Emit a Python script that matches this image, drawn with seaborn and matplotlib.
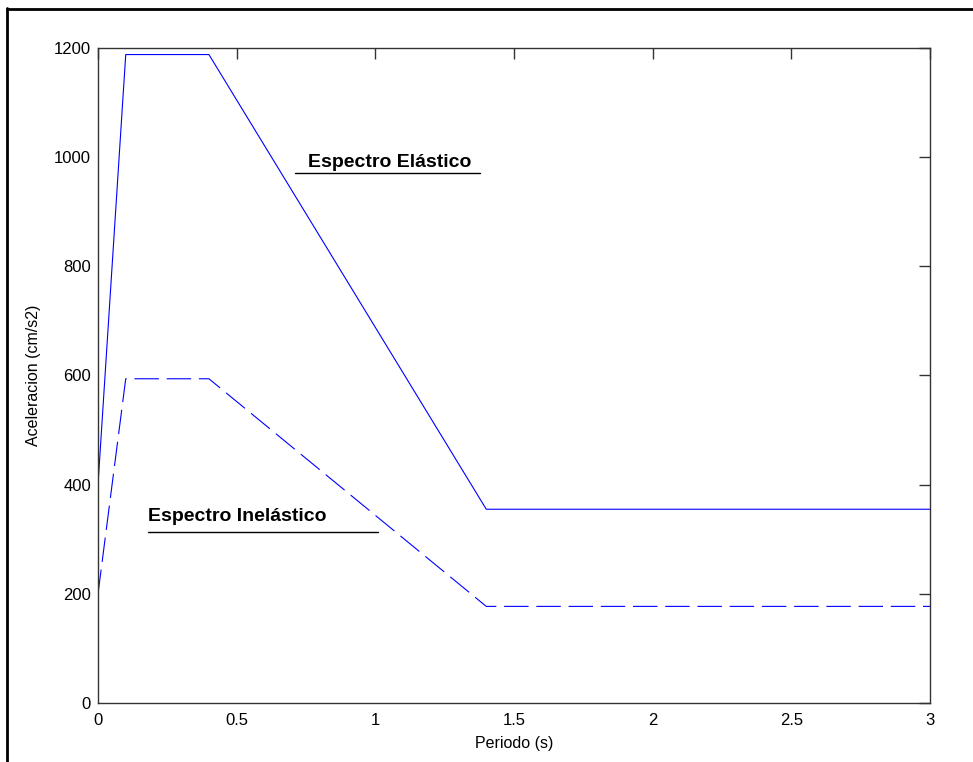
import matplotlib
matplotlib.use("Agg")
import matplotlib.pyplot as plt
import seaborn as sns
import pandas as pd
from matplotlib.lines import Line2D

# spectrum corner points
periodo = [0.0, 0.1, 0.4, 1.4, 3.0]
elastico = [400, 1188, 1188, 355, 355]
inelastico = [200, 594, 594, 177, 177]

x_ticks = [0, 0.5, 1, 1.5, 2, 2.5, 3]
x_labels = ["0", "0.5", "1", "1.5", "2", "2.5", "3"]
y_ticks = [0, 200, 400, 600, 800, 1000, 1200]

df = pd.DataFrame({
    "Periodo": periodo * 2,
    "Aceleracion": elastico + inelastico,
    "Espectro": ["Elástico"] * len(periodo) + ["Inelástico"] * len(periodo),
})

sns.set_style("white")
plt.rcParams["font.family"] = ["Liberation Sans", "DejaVu Sans"]
plt.rcParams["text.color"] = "black"
plt.rcParams["axes.labelcolor"] = "black"

fig = plt.figure(figsize=(9.73, 7.62), dpi=100)
ax = fig.add_axes([98 / 973, 1 - 703 / 762, 832 / 973, 655 / 762])

sns.lineplot(data=df[df.Espectro == "Elástico"], x="Periodo", y="Aceleracion",
             color="#0000ff", lw=0.8, ax=ax, legend=False)
sns.lineplot(data=df[df.Espectro == "Inelástico"], x="Periodo", y="Aceleracion",
             color="#0000ff", lw=0.8, ax=ax, legend=False)
ax.lines[1].set_dashes([22, 7])

ax.set_xlim(0, 3)
ax.set_ylim(0, 1200)
ax.set_xticks(x_ticks)
ax.set_xticklabels(x_labels)
ax.set_yticks(y_ticks)
ax.tick_params(direction="in", length=8, width=1, colors="#333333",
               labelcolor="black", labelsize=12, top=True, right=True,
               pad=5)
ax.tick_params(axis="x", pad=7)
for s in ax.spines.values():
    s.set_color("#333333")
    s.set_linewidth(1)
    s.set_visible(True)

ax.set_xlabel("Periodo (s)", fontsize=11.5, labelpad=6)
ax.set_ylabel("Aceleracion (cm/s2)", fontsize=11.5, labelpad=9)

# labels with underline
ax.text(0.757, 982, "Espectro Elástico", fontsize=14, fontweight="bold")
ax.plot([0.71, 1.377], [971, 971], color="black", lw=1)
ax.text(0.18, 334, "Espectro Inelástico", fontsize=14, fontweight="bold")
ax.plot([0.18, 1.01], [313, 313], color="black", lw=1)

# frame of the figure (left and top edges only)
fig.add_artist(Line2D([7 / 973, 7 / 973], [0, 1 - 8 / 762], color="black",
                      lw=2, transform=fig.transFigure))
fig.add_artist(Line2D([7 / 973, 1], [1 - 9 / 762, 1 - 9 / 762], color="black",
                      lw=2, transform=fig.transFigure))

fig.savefig("out.png", dpi=100)
